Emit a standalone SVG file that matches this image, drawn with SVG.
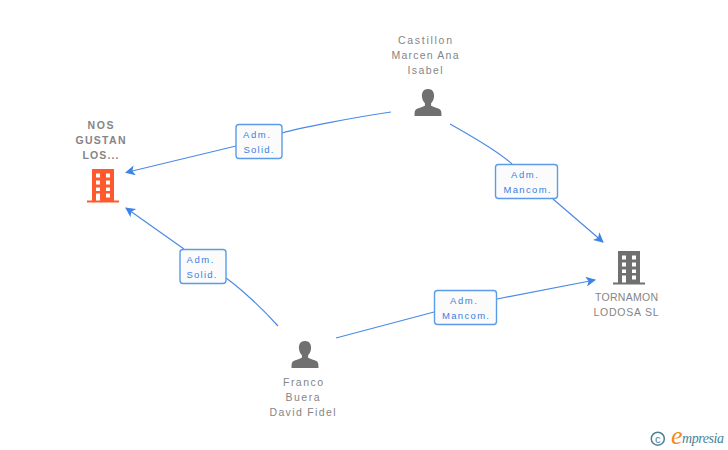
<svg xmlns="http://www.w3.org/2000/svg" xmlns:xlink="http://www.w3.org/1999/xlink" width="728" height="450" viewBox="0 0 728 450">
<style>
.bg{fill:#fff}
.edge{fill:none;stroke:#4a8ae6;stroke-width:1.2}
.box{fill:#fbfbfb;stroke:#5b9be8;stroke-width:1.4}
.el{font:9.5px "Liberation Sans",Arial,sans-serif;fill:#3a7fe0;text-anchor:middle}
.nl{font:10.5px "Liberation Sans",Arial,sans-serif;fill:#858585;text-anchor:middle}
.nb{font-weight:bold}
</style>
<defs>
<marker id="arr" markerUnits="userSpaceOnUse" markerWidth="12" markerHeight="12" refX="9" refY="5" orient="auto"><path d="M0 0L10 5L0 10L2.500 5Z" fill="#3f84e5"/></marker>
<g id="person"><path d="M0 0c4.500 0 6.500 3.500 6 8c-.3 2.800-1.600 4.900-2.900 6.300v2.500c1.800 1.200 6.300 2 8.700 3.500c1.500 1 1.700 3 1.700 6.700h-27c0-3.700.2-5.700 1.700-6.700c2.400-1.500 6.900-2.300 8.700-3.500v-2.500c-1.300-1.400-2.600-3.500-2.900-6.300c-.5-4.500 1.500-8 6-8Z"/></g>
<g id="building"><path fill-rule="evenodd" d="M5 0H27V31.500H32V33.500H0V31.500H5ZM9 4.500V8.500H13V4.500ZM19 4.500V8.500H23V4.500ZM9 11.500V15.500H13V11.500ZM19 11.500V15.500H23V11.500ZM9 18.500V22H13V18.500ZM19 18.500V22H23V18.500ZM9 24.500V31.500H13V24.500ZM19 24.500V28.500H23V24.500Z"/></g>
</defs>
<rect class="bg" width="728" height="450"/>
<g id="connectors">
<path class="edge" marker-end="url(#arr)" d="M391 112C350 118 300 128 282 133M236 146L126 172.500"/>
<path class="edge" marker-end="url(#arr)" d="M450 124C475 138 500 153 512 164M553 199L603 242"/>
<path class="edge" marker-end="url(#arr)" d="M278 326C262 308 240 288 226 278M184 249L126 208"/>
<path class="edge" marker-end="url(#arr)" d="M336 338L434 312M497 299L595 280"/>
</g>
<g id="edge-label-1"><rect class="box" x="236" y="124.500" width="46" height="34" rx="3"/><text class="el" x="256.500" y="138" textLength="27">Adm.</text><text class="el" x="258.500" y="153" textLength="30">Solid.</text></g>
<g id="edge-label-2"><rect class="box" x="495.500" y="164.500" width="62" height="34" rx="3"/><text class="el" x="524.500" y="178" textLength="27">Adm.</text><text class="el" x="527" y="193" textLength="47">Mancom.</text></g>
<g id="edge-label-3"><rect class="box" x="180" y="249.500" width="46" height="34" rx="3"/><text class="el" x="200" y="263" textLength="27">Adm.</text><text class="el" x="201.500" y="278" textLength="30">Solid.</text></g>
<g id="edge-label-4"><rect class="box" x="434.500" y="290.500" width="62" height="34" rx="3"/><text class="el" x="463.500" y="304" textLength="27">Adm.</text><text class="el" x="465.500" y="319" textLength="47">Mancom.</text></g>
<g id="node-nos"><text class="nl nb" x="100.500" y="129" textLength="26">NOS</text><text class="nl nb" x="100.500" y="144" textLength="50">GUSTAN</text><text class="nl nb" x="100.500" y="159" textLength="36">LOS...</text><use xlink:href="#building" href="#building" x="87" y="169" fill="#ff5a2e"/></g>
<g id="node-castillon"><text class="nl" x="425" y="44" textLength="54">Castillon</text><text class="nl" x="425" y="59" textLength="67">Marcen Ana</text><text class="nl" x="425" y="74" textLength="35">Isabel</text><use xlink:href="#person" href="#person" x="428" y="89" fill="#707070"/></g>
<g id="node-tornamon"><use xlink:href="#building" href="#building" x="613" y="251" fill="#707070"/><text class="nl" x="626.500" y="301" textLength="63">TORNAMON</text><text class="nl" x="626" y="316" textLength="65">LODOSA SL</text></g>
<g id="node-franco"><use xlink:href="#person" href="#person" x="305" y="341" fill="#707070"/><text class="nl" x="303" y="386" textLength="40">Franco</text><text class="nl" x="302.500" y="401" textLength="34">Buera</text><text class="nl" x="302.500" y="416" textLength="66">David Fidel</text></g>
<g id="logo"><circle cx="657.800" cy="438.700" r="6.500" fill="none" stroke="#4a8296" stroke-width="1.500"/><text x="657.800" y="442.500" font-family="Liberation Sans,sans-serif" font-size="11" fill="#4a8296" text-anchor="middle">c</text><text x="671" y="444" font-family="Liberation Serif,serif" font-style="italic" font-size="26" fill="#f08a1d">e</text><text x="682" y="443" font-family="Liberation Serif,serif" font-style="italic" font-size="14" fill="#4a8296" textLength="42">mpresia</text></g>
</svg>
